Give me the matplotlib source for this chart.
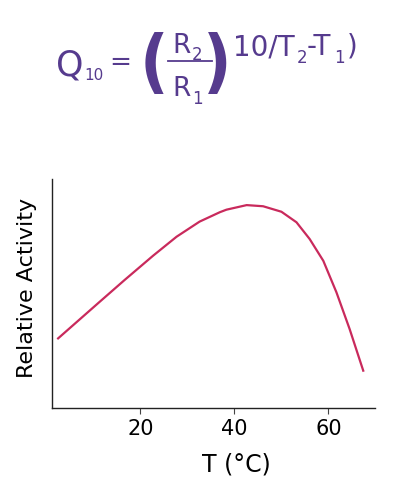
import matplotlib
matplotlib.use("Agg")
from matplotlib import pyplot as plt

# curve (temperature in °C, relative activity 0-1)
temp = [2.5, 11.3, 16.7, 22.7, 27.7, 32.6, 36.9, 38.3, 42.6, 46.1, 50.0, 53.2, 56.0, 58.9, 61.7, 64.5, 67.4]
activity = [0.304, 0.463, 0.560, 0.665, 0.748, 0.814, 0.855, 0.866, 0.886, 0.881, 0.857, 0.811, 0.738, 0.643, 0.505, 0.345, 0.163]
xticks = [20, 40, 60]

purple = '#563b8e'
line_col = '#c92a5c'

plt.rcParams['font.family'] = ['DejaVu Sans']
fig = plt.figure(figsize=(4, 4.85), dpi=100)

W, H = 400, 485
def fx(px):
    return px / W
def fy(py):
    return 1 - py / H

def put(px, py, s, size, **kw):
    fig.text(fx(px), fy(py), s, fontsize=size, color=purple, va='baseline', **kw)

# formula, placed piece by piece
put(56, 75, 'Q', 25)
put(84, 80, '10', 11)
put(109, 70, '=', 19)
fig.text(fx(154), fy(66), '(', fontsize=50, color=purple, fontweight='bold',
         fontstretch='condensed', ha='center', va='center')
fig.text(fx(217), fy(66), ')', fontsize=50, color=purple, fontweight='bold',
         fontstretch='condensed', ha='center', va='center')
put(172, 53, 'R', 19)
put(192, 60, '2', 12)
put(172, 96, 'R', 19)
put(192, 104, '1', 12)
fig.add_artist(plt.Line2D([fx(168), fx(212)], [fy(62), fy(62)], color=purple, lw=1.3))
put(233, 55, '10/T', 20)
put(297, 63, '2', 12)
put(307, 55, '-T', 20)
put(334, 63, '1', 12)
put(347, 55, ')', 20)

ax = fig.add_axes([fx(52), fy(409), fx(375) - fx(52), fy(180) - fy(409)])
ax.plot(temp, activity, color=line_col, linewidth=1.6, solid_joinstyle='round')

ax.set_xlim(1.2, 69.9)
ax.set_ylim(0, 1)
ax.set_xticks(xticks)
ax.set_yticks([])
ax.tick_params(axis='x', labelsize=15, length=4, width=0.8, color='#444444', pad=3)
for s in ['top', 'right']:
    ax.spines[s].set_visible(False)
for s in ['left', 'bottom']:
    ax.spines[s].set_linewidth(1.0)
    ax.spines[s].set_color('#222222')

ax.set_xlabel('T (°C)', fontsize=17)
ax.xaxis.set_label_coords(0.57, -0.19)
ax.set_ylabel('Relative Activity', fontsize=16)
ax.yaxis.set_label_coords(-0.045, 0.53)

fig.savefig('out.png', dpi=100)
